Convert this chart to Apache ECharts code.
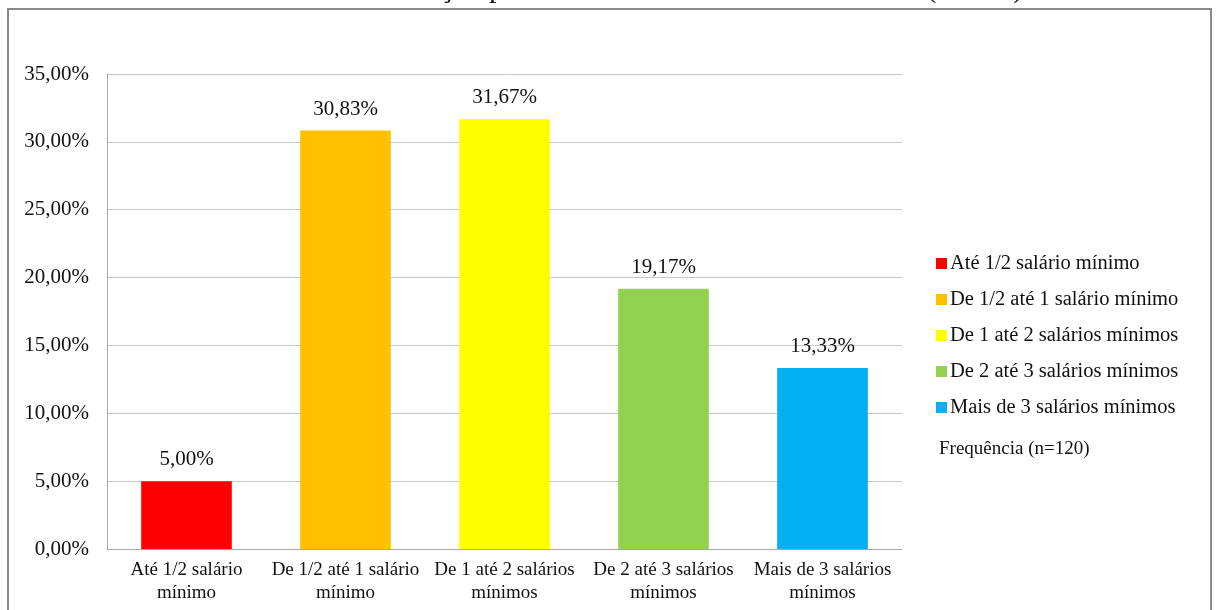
<!DOCTYPE html>
<html>
<head>
<meta charset="utf-8">
<script src="https://cdn.jsdelivr.net/npm/echarts@6/dist/echarts.min.js"></script>
<style>html,body{margin:0;padding:0;background:#fff}#c{width:1216px;height:610px}</style>
</head>
<body>
<div id="c"></div>
<script>
const titleText = 'Gráfico 1 – Distribuição percentual da renda familiar mensal (n=120).';
const categories = ['Até 1/2 salário\nmínimo', 'De 1/2 até 1 salário\nmínimo', 'De 1 até 2 salários\nmínimos', 'De 2 até 3 salários\nmínimos', 'Mais de 3 salários\nmínimos'];
const seriesNames = ['Até 1/2 salário mínimo', 'De 1/2 até 1 salário mínimo', 'De 1 até 2 salários mínimos', 'De 2 até 3 salários mínimos', 'Mais de 3 salários mínimos'];
const values = [5.00, 30.83, 31.67, 19.17, 13.33];
const colors = ['#FF0000', '#FFC000', '#FFFF00', '#92D050', '#00B0F0'];
const noteText = 'Frequência (n=120)';
const yMin = 0, yMax = 35, yStep = 5;

const FONT = '"Liberation Serif", "Times New Roman", serif';
const fmt = v => Number(v).toFixed(2).replace('.', ',') + '%';

const series = seriesNames.map((name, i) => ({
  name: name,
  type: 'bar',
  stack: 'all',
  barCategoryGap: '43%',
  itemStyle: { color: colors[i] },
  data: values.map((v, j) => (j === i ? v : '-')),
  label: {
    show: true,
    position: 'top',
    distance: 11,
    formatter: p => fmt(p.value),
    color: '#111',
    fontFamily: FONT,
    fontSize: 21
  }
}));

const chart = echarts.init(document.getElementById('c'));
chart.setOption({
  animation: false,
  backgroundColor: '#fff',
  color: colors,
  grid: { left: 107, right: 314, top: 74, bottom: 61, containLabel: false },
  xAxis: {
    type: 'category',
    data: categories,
    axisTick: { show: false },
    axisLine: { lineStyle: { color: '#a6a6a6', width: 1 } },
    axisLabel: { color: '#111', fontFamily: FONT, fontSize: 19, lineHeight: 23, margin: 10, interval: 0 }
  },
  yAxis: {
    type: 'value',
    min: yMin, max: yMax, interval: yStep,
    axisLine: { show: true, lineStyle: { color: '#a6a6a6', width: 1 } },
    axisTick: { show: false },
    splitLine: { lineStyle: { color: '#c8c8c8', width: 1 } },
    axisLabel: { formatter: v => fmt(v), color: '#111', fontFamily: FONT, fontSize: 21, margin: 18 }
  },
  legend: {
    orient: 'vertical',
    left: 931,
    top: 248,
    itemWidth: 11,
    itemHeight: 11,
    itemGap: 15,
    icon: 'rect',
    data: seriesNames,
    textStyle: { color: '#111', fontFamily: FONT, fontSize: 20.5, lineHeight: 21, padding: [0, 0, 0, -2] }
  },
  graphic: [
    { type: 'rect', shape: { x: 8, y: 9, width: 1203, height: 640 }, style: { fill: 'none', stroke: '#8a8a8a', lineWidth: 2 }, silent: true },
    { type: 'text', x: 610, y: 4, style: { text: titleText, font: '30px ' + FONT, fill: '#111', align: 'center', verticalAlign: 'bottom' }, silent: true },
    { type: 'text', x: 939, y: 449, style: { text: noteText, font: '19px ' + FONT, fill: '#111', align: 'left', verticalAlign: 'middle' }, silent: true }
  ],
  series: series
});
</script>
</body>
</html>
